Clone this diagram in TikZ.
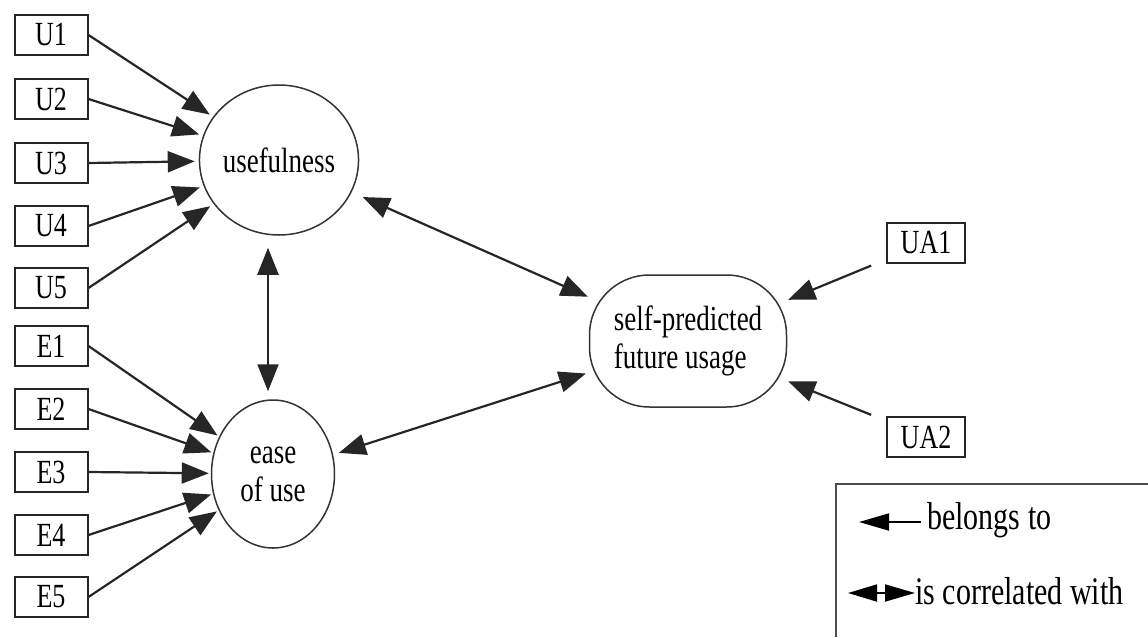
\documentclass[tikz,border=0pt]{standalone}
\usepackage{fontspec}
\setmainfont{Liberation Serif}
\usepackage{graphicx}
\usetikzlibrary{arrows.meta,shapes.geometric}
\newcommand{\vstr}[1]{\scalebox{1}[1.3]{#1}}
\begin{document}
\begin{tikzpicture}[x=1pt,y=-1pt,
  ind/.style={draw=black!85,line width=2pt,rectangle,minimum width=73pt,minimum height=40pt,inner sep=0pt,font=\fontsize{26}{30}\selectfont},
  lat/.style={draw=black!80,line width=1.5pt,ellipse,inner sep=0pt,font=\fontsize{27}{32}\selectfont},
  tipbig/.style={-{Triangle[length=27pt,width=21pt]}},
  bothbig/.style={{Triangle[length=27pt,width=21pt]}-{Triangle[length=27pt,width=21pt]}},
  conn/.style={draw=black!85,line width=2.2pt},
  legtxt/.style={anchor=west,inner sep=0pt,font=\fontsize{30}{34}\selectfont}]
\useasboundingbox (0,0) rectangle (1148,637);
% indicators
\node[ind] (U1) at (51,35) {\vstr{U1}};
\node[ind] (U2) at (51,99) {\vstr{U2}};
\node[ind] (U3) at (51,163) {\vstr{U3}};
\node[ind] (U4) at (51,226) {\vstr{U4}};
\node[ind] (U5) at (51,288) {\vstr{U5}};
\node[ind] (E1) at (51,346) {\vstr{E1}};
\node[ind] (E2) at (51,409) {\vstr{E2}};
\node[ind] (E3) at (51,472) {\vstr{E3}};
\node[ind] (E4) at (51,535) {\vstr{E4}};
\node[ind] (E5) at (51,597) {\vstr{E5}};
\node[ind,minimum width=78pt] (UA1) at (926,243) {\vstr{UA1}};
\node[ind,minimum width=78pt] (UA2) at (926,437) {\vstr{UA2}};
% latent constructs
\node[lat,minimum width=132pt,minimum height=150pt] (use) at (279,160) {\vstr{usefulness}};
\node[lat,minimum width=123pt,minimum height=148pt] (ease) at (273,474)
  {\vstr{\begin{tabular}{@{}c@{}}ease\\[-3pt]of use\end{tabular}}};
\node[draw=black!80,line width=1.5pt,rectangle,rounded corners=60pt,minimum width=197pt,minimum height=132pt,inner sep=0pt,font=\fontsize{27}{32}\selectfont] (self) at (688,341)
  {\raisebox{5pt}{\vstr{\begin{tabular}{@{}l@{}}self-predicted\\[-3pt]future usage\end{tabular}}}};
% belongs-to arrows
\foreach \n in {U1,U2,U3,U4,U5}{\draw[conn,tipbig,shorten >=4pt] (\n.east) -- (use);}
\foreach \n in {E1,E2,E3,E4,E5}{\draw[conn,tipbig,shorten >=2pt] (\n.east) -- (ease);}
\draw[conn,tipbig,shorten <=16pt,shorten >=1pt] (UA1) -- (self);
\draw[conn,tipbig,shorten <=16pt,shorten >=1pt] (UA2) -- (self);
% correlations
\coordinate (vx) at (268,0);
\draw[conn,bothbig,shorten <=12pt,shorten >=8pt] (use.south -| vx) -- (ease.north -| vx);
\draw[conn,bothbig,shorten <=12pt,shorten >=1pt] (use) -- (self);
\draw[conn,bothbig,shorten <=6pt,shorten >=3pt] (ease) -- (self);
% legend
\draw[draw=black!70,line width=2pt] (836,637) -- (836,484) -- (1148,484);
\coordinate (la1) at (921,522);
\coordinate (la2) at (859,522);
\draw[draw=black,line width=1.8pt,-{Triangle[length=30pt,width=17pt]}] (la1) -- (la2);
\node[legtxt] (lt1) at (927,520) {\vstr{belongs to}};
\coordinate (lb1) at (848,593);
\coordinate (lb2) at (915,593);
\draw[draw=black,line width=1.8pt,{Triangle[length=29pt,width=17pt]}-{Triangle[length=30pt,width=17pt]}] (lb1) -- (lb2);
\node[legtxt] (lt2) at (915,591) {\vstr{is correlated with}};
\end{tikzpicture}
\end{document}
